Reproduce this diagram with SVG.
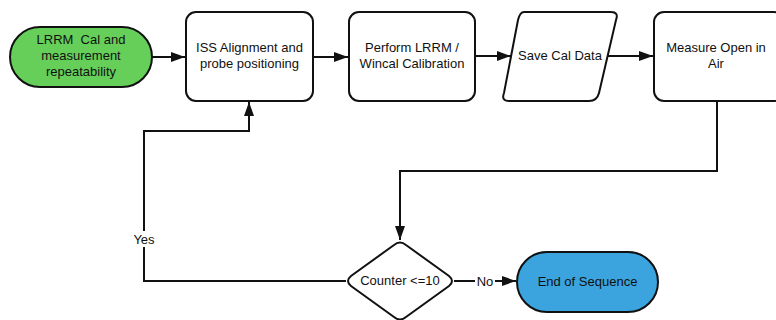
<svg xmlns="http://www.w3.org/2000/svg" width="776" height="320" viewBox="0 0 776 320">
<style>
.n{fill:#fff;stroke:#111;stroke-width:2}
.t{font-family:"Liberation Sans",Arial,sans-serif;font-size:13px;fill:#111;text-anchor:middle;white-space:pre}
.c{fill:none;stroke:#111;stroke-width:2}
</style>
<defs>
<marker id="b" viewBox="0 0 10 10" refX="10" refY="5" markerWidth="14" markerHeight="10" markerUnits="userSpaceOnUse" orient="auto" preserveAspectRatio="none">
<path d="M0,0 L10,5 L0,10 Z" fill="#111"/>
</marker>
</defs>
<rect width="776" height="320" fill="#fff"/>
<g id="connectors">
<path class="c" d="M152,57 H185" marker-end="url(#b)"/>
<path class="c" d="M313,57 H348" marker-end="url(#b)"/>
<path class="c" d="M475,56 H511" marker-end="url(#b)"/>
<path class="c" d="M608,56 H653" marker-end="url(#b)"/>
<path class="c" d="M717,101 V171 H400 V240" marker-end="url(#b)"/>
<path class="c" d="M346,281 H144 V131 H249 V102" marker-end="url(#b)"/>
<rect x="130" y="231" width="28" height="16" fill="#fff"/>
<text class="t" x="144" y="244">Yes</text>
<path class="c" d="M454,281 H516" marker-end="url(#b)"/>
<rect x="475" y="273" width="20" height="16" fill="#fff"/>
<text class="t" x="485" y="286">No</text>
</g>
<g id="start">
<rect x="10" y="27" width="142" height="60" rx="30" fill="#66cf5a" stroke="#111" stroke-width="2"/>
<text class="t" x="81" y="44" xml:space="preserve">LRRM  Cal and</text>
<text class="t" x="81" y="60">measurement</text>
<text class="t" x="81" y="76">repeatability</text>
</g>
<g id="iss">
<rect class="n" x="186" y="12" width="127" height="89" rx="10"/>
<text class="t" x="249.5" y="52">ISS Alignment and</text>
<text class="t" x="249.5" y="68">probe positioning</text>
</g>
<g id="perform">
<rect class="n" x="349" y="12" width="126" height="89" rx="10"/>
<text class="t" x="412" y="52">Perform LRRM /</text>
<text class="t" x="412" y="68">Wincal Calibration</text>
</g>
<g id="save">
<path class="n" d="M524,12 H611 Q619,12 616,20 L599,93 Q597,101 589,101 H509 Q501,101 504,93 L518,20 Q520,12 524,12 Z"/>
<text class="t" x="560" y="60">Save Cal Data</text>
</g>
<g id="measure">
<rect class="n" x="654" y="12" width="130" height="89" rx="10"/>
<text class="t" x="716" y="52">Measure Open in</text>
<text class="t" x="716" y="68">Air</text>
</g>
<g id="decision">
<path class="n" d="M394,245 Q400,240 406,245 L449,276 Q455,281 449,286 L406,317 Q400,322 394,317 L351,286 Q345,281 351,276 Z"/>
<text class="t" x="400" y="285">Counter &lt;=10</text>
</g>
<g id="end">
<rect x="517" y="252" width="141" height="60" rx="30" fill="#3ba3dd" stroke="#111" stroke-width="2"/>
<text class="t" x="587.5" y="286">End of Sequence</text>
</g>
</svg>
